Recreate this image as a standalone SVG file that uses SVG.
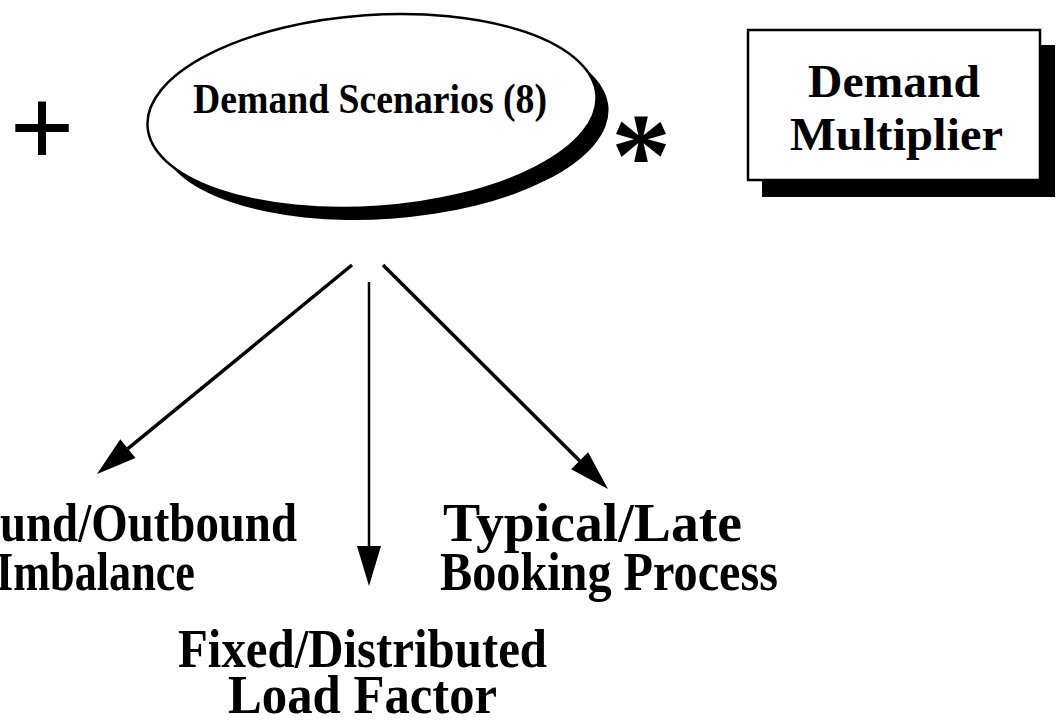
<svg xmlns="http://www.w3.org/2000/svg" width="1061" height="723" viewBox="0 0 1061 723">
<style>
.t{font-family:"Liberation Serif","Times New Roman",serif;font-weight:bold;fill:#000}
.big{font-size:55px}
.shape{fill:#fff;stroke:#000;stroke-width:2.5}
.shadow{fill:#000}
.ln{stroke:#000;fill:none}
.hd{fill:#000}
</style>
<rect width="1061" height="723" fill="#fff"/>
<g id="plus"><text class="t" x="42" y="166" font-size="115" text-anchor="middle">+</text></g>
<g id="demand-scenarios">
<ellipse class="shadow" cx="384" cy="123" rx="225" ry="96" transform="rotate(-4 384 123)"/>
<ellipse class="shape" cx="372" cy="111" rx="225" ry="96" transform="rotate(-4 372 111)"/>
<text class="t" x="193" y="113" font-size="43" textLength="354" lengthAdjust="spacingAndGlyphs">Demand Scenarios (8)</text>
</g>
<g id="times"><text class="t" x="641" y="196" font-size="120" text-anchor="middle">*</text></g>
<g id="demand-multiplier">
<rect class="shadow" x="762" y="45" width="293" height="152"/>
<rect class="shape" x="748" y="30" width="292" height="150"/>
<text class="t" x="808" y="97" font-size="46" textLength="172" lengthAdjust="spacingAndGlyphs">Demand</text>
<text class="t" x="790" y="150" font-size="46" textLength="213" lengthAdjust="spacingAndGlyphs">Multiplier</text>
</g>
<g id="connectors">
<line class="ln" x1="352" y1="265" x2="127.9" y2="448.6" stroke-width="3.5"/>
<polygon class="hd" points="97,474 135.5,457.9 120.3,439.3"/>
<line class="ln" x1="369" y1="282" x2="369" y2="550" stroke-width="2.5"/>
<polygon class="hd" points="369,586 381,546 357,546"/>
<line class="ln" x1="383" y1="265" x2="579.6" y2="460.8" stroke-width="3.5"/>
<polygon class="hd" points="608,489 588.1,452.3 571.1,469.3"/>
</g>
<g id="inbound-outbound">
<text class="t big" x="0" y="541" textLength="297" lengthAdjust="spacingAndGlyphs">und/Outbound</text>
<text class="t big" x="-4" y="590" textLength="199" lengthAdjust="spacingAndGlyphs">Imbalance</text>
</g>
<g id="typical-late">
<text class="t big" x="443" y="541" textLength="299" lengthAdjust="spacingAndGlyphs">Typical/Late</text>
<text class="t big" x="440" y="590" textLength="338" lengthAdjust="spacingAndGlyphs">Booking Process</text>
</g>
<g id="fixed-distributed">
<text class="t big" x="178" y="667" textLength="369" lengthAdjust="spacingAndGlyphs">Fixed/Distributed</text>
<text class="t big" x="228" y="713" textLength="269" lengthAdjust="spacingAndGlyphs">Load Factor</text>
</g>
</svg>
